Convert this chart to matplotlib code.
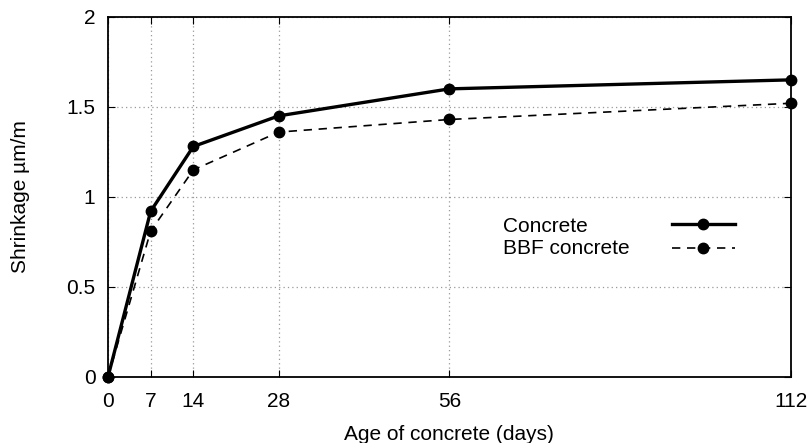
import matplotlib
matplotlib.use("Agg")
import matplotlib.pyplot as plt

plt.rcParams["font.family"] = ["Liberation Sans", "DejaVu Sans"]

days = [0, 7, 14, 28, 56, 112]
concrete = [0, 0.92, 1.28, 1.45, 1.60, 1.65]
bbf_concrete = [0, 0.81, 1.15, 1.36, 1.43, 1.52]
series_names = ["Concrete", "BBF concrete"]
yticks = [0, 0.5, 1, 1.5, 2]
ytick_labels = ["0", "0.5", "1", "1.5", "2"]

fs = 15

fig = plt.figure(figsize=(8.1, 4.43), dpi=100)
ax = fig.add_axes([0.1333, 0.149, 0.843, 0.813])

l1, = ax.plot(days, concrete, color="black", lw=2.4, marker="o", ms=7.5,
              clip_on=False, zorder=3)
l2, = ax.plot(days, bbf_concrete, color="black", lw=1.2, ls=(0, (5, 4)), marker="o", ms=7.5,
              clip_on=False, zorder=3)

ax.set_xlim(0, 112)
ax.set_ylim(0, 2)
ax.set_xticks(days)
ax.set_yticks(yticks)
ax.set_yticklabels(ytick_labels)
ax.grid(True, color="#999999", ls=(0, (1, 2.5)), lw=0.9)
ax.tick_params(direction="in", top=True, right=True, length=5, labelsize=fs)
ax.tick_params(axis="x", pad=11)
ax.tick_params(axis="y", pad=9)
for s in ax.spines.values():
    s.set_linewidth(1.3)

ax.set_xlabel("Age of concrete (days)", fontsize=fs, labelpad=10)
ax.set_ylabel("Shrinkage µm/m", fontsize=fs, labelpad=26)

# legend: samples on the right, labels left-aligned in front of them
ax.legend([l1, l2], ["", ""], loc="center", bbox_to_anchor=(0.872, 0.387),
          frameon=False, handlelength=3.0, handletextpad=0, borderpad=0,
          labelspacing=0.25, fontsize=fs)
for name, y in zip(series_names, [0.4167, 0.358]):
    ax.text(0.578, y, name, transform=ax.transAxes, fontsize=fs,
            ha="left", va="center")

fig.savefig("out.png", dpi=100)
